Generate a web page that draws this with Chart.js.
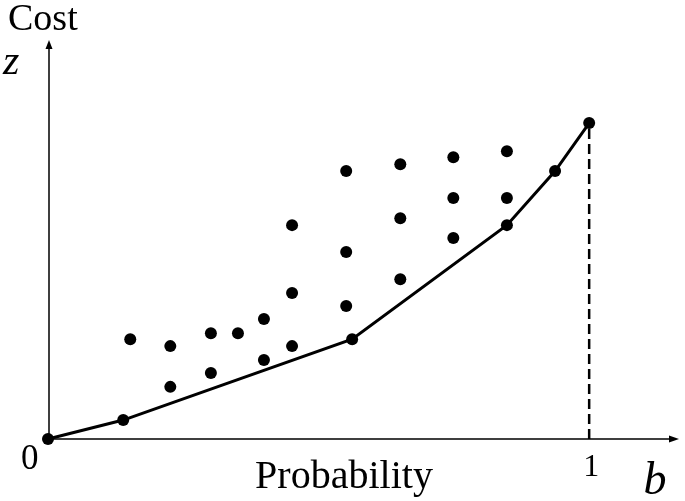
<!DOCTYPE html>
<html>
<head>
<meta charset="utf-8">
<style>
  html, body { margin: 0; padding: 0; background: #fff; }
  #wrap { width: 685px; height: 501px; }
</style>
<script src="https://cdn.jsdelivr.net/npm/chart.js@4/dist/chart.umd.min.js"></script>
</head>
<body>
<div id="wrap"><canvas id="chart" width="685" height="501"></canvas></div>
<script>
// lower boundary (cost curve) points
const hullB = [0, 0.139, 0.562, 0.848, 0.937, 1.0];
const hullZ = [0, 0.060, 0.316, 0.677, 0.848, 1.0];

// scattered points above the curve
const dotsB = [0.152, 0.226, 0.226, 0.301, 0.301, 0.351, 0.399, 0.399,
               0.451, 0.451, 0.451, 0.551, 0.551, 0.551, 0.651, 0.651, 0.651,
               0.749, 0.749, 0.749, 0.848, 0.848];
const dotsZ = [0.316, 0.294, 0.165, 0.335, 0.209, 0.335, 0.380, 0.250,
               0.294, 0.462, 0.677, 0.421, 0.592, 0.848, 0.506, 0.699, 0.870,
               0.636, 0.763, 0.892, 0.763, 0.911];

// dashed drop line at b = 1
const dropB = [1, 1];
const dropZ = [0, 1];

const axisMaxB = 1.166;
const axisMaxZ = 1.263;

const toPts = (xs, ys) => xs.map((x, i) => ({ x: x, y: ys[i] }));

const serif = '"Liberation Serif", "DejaVu Serif", serif';

// axes with arrows and the labels
const axesPlugin = {
   id: 'axes',
   beforeDatasetsDraw(chart) {
      const c = chart.ctx;
      const xs = chart.scales.x, ys = chart.scales.y;
      const x0 = xs.getPixelForValue(0), y0 = ys.getPixelForValue(0);
      const xEnd = xs.getPixelForValue(axisMaxB), yEnd = ys.getPixelForValue(axisMaxZ);
      c.save();
      c.strokeStyle = '#000';
      c.fillStyle = '#000';
      c.lineWidth = 1.5;
      c.beginPath();
      c.moveTo(x0 + 1, y0);
      c.lineTo(x0 + 1, yEnd + 6);
      c.moveTo(x0, y0);
      c.lineTo(xEnd - 6, y0);
      c.stroke();
      // arrow heads
      c.beginPath();
      c.moveTo(x0 + 1, yEnd);
      c.lineTo(x0 - 2.5, yEnd + 9);
      c.lineTo(x0 + 4.5, yEnd + 9);
      c.closePath();
      c.fill();
      c.beginPath();
      c.moveTo(xEnd, y0);
      c.lineTo(xEnd - 10, y0 - 3.5);
      c.lineTo(xEnd - 10, y0 + 3.5);
      c.closePath();
      c.fill();
      c.restore();
   },
   afterDraw(chart) {
      const c = chart.ctx;
      const xs = chart.scales.x;
      const x1 = xs.getPixelForValue(1);
      c.save();
      c.fillStyle = '#000';
      c.textBaseline = 'alphabetic';
      c.textAlign = 'left';
      c.font = '38px ' + serif;
      c.fillText('Cost', 8, 30);
      c.font = 'italic 42px ' + serif;
      c.fillText('z', 3, 74);
      c.font = '35px ' + serif;
      c.fillText('0', 21, 469);
      c.textAlign = 'center';
      c.font = '32px ' + serif;
      c.fillText('1', x1 + 2, 476);
      c.font = '40px ' + serif;
      c.fillText('Probability', 344, 488);
      c.font = 'italic 46px ' + serif;
      c.fillText('b', 655, 494);
      c.restore();
   }
};

new Chart(document.getElementById('chart'), {
   type: 'scatter',
   data: {
      datasets: [
         {
            data: toPts(dropB, dropZ),
            showLine: true,
            borderColor: '#000',
            borderWidth: 2.5,
            borderDash: [10, 5],
            pointRadius: 0,
            clip: false
         },
         {
            data: toPts(hullB, hullZ),
            showLine: true,
            borderColor: '#000',
            borderWidth: 3,
            pointRadius: 6,
            pointBackgroundColor: '#000',
            pointBorderWidth: 0,
            clip: false
         },
         {
            data: toPts(dotsB, dotsZ),
            showLine: false,
            pointRadius: 6,
            pointBackgroundColor: '#000',
            pointBorderWidth: 0,
            clip: false
         }
      ]
   },
   options: {
      responsive: false,
      animation: false,
      layout: { padding: { left: 48, right: 2, top: 40, bottom: 62 } },
      plugins: { legend: { display: false }, tooltip: { enabled: false } },
      scales: {
         x: { type: 'linear', min: 0, max: axisMaxB, display: false },
         y: { type: 'linear', min: 0, max: axisMaxZ, display: false }
      }
   },
   plugins: [axesPlugin]
});
</script>
</body>
</html>
